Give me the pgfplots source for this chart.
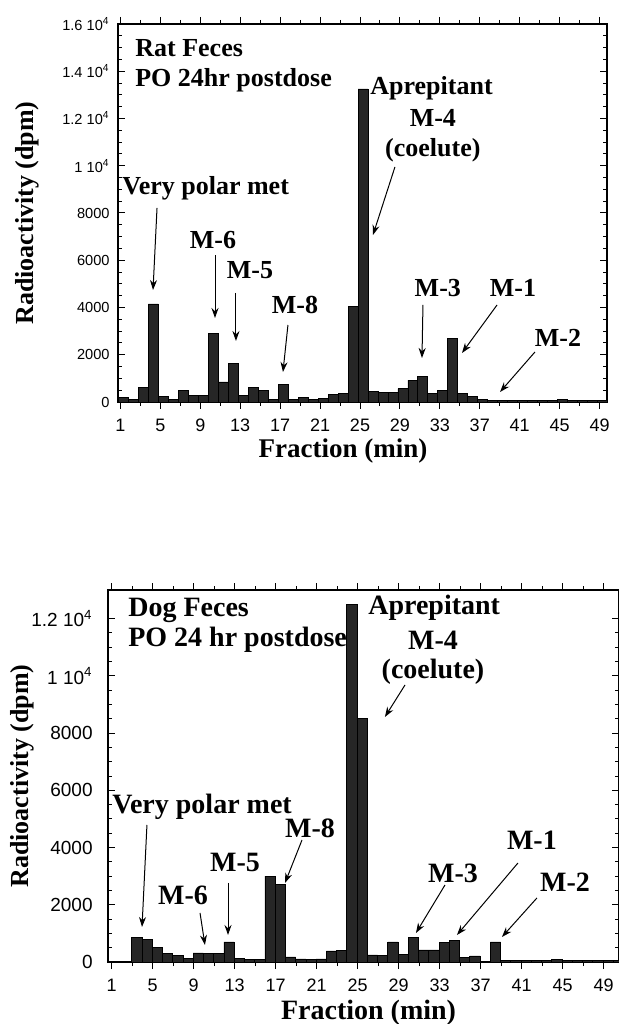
\documentclass[border=0pt]{standalone}
\usepackage{fontspec}
\setmainfont{Liberation Serif}
\setsansfont{Liberation Sans}
\usepackage{pgfplots}
\usepackage{pgfplotstable}
\pgfplotsset{compat=1.18}
\usetikzlibrary{arrows.meta}

\pgfplotstableread{
f v
1 180
2 120
3 600
4 4150
5 250
6 100
7 470
8 285
9 285
10 2900
11 850
12 1650
13 285
14 610
15 470
16 115
17 750
18 115
19 185
20 115
21 140
22 330
23 360
24 4050
25 13250
26 430
27 400
28 400
29 570
30 930
31 1100
32 357
33 500
34 2700
35 357
36 220
37 100
38 60
39 60
40 50
41 50
42 50
43 50
44 80
45 110
46 60
47 50
48 60
49 70
}\ratdata

\pgfplotstableread{
f v
3 850
4 800
5 500
6 290
7 220
8 115
9 315
10 290
11 290
12 700
13 115
14 80
15 80
16 3000
17 2700
18 175
19 105
20 80
21 105
22 385
23 410
24 12500
25 8500
26 245
27 220
28 700
29 270
30 850
31 420
32 420
33 680
34 740
35 150
36 210
37 30
38 700
39 60
40 60
41 50
42 50
43 50
44 80
45 50
46 50
47 40
48 60
49 50
50 40
}\dogdata

\newcommand{\annA}{\fontsize{13}{14}\selectfont\bfseries}
\newcommand{\annB}{\fontsize{14}{15}\selectfont\bfseries}

\pgfplotsset{
  common/.style={
    scale only axis,
    clip=false,
    scaled y ticks=false,
    scaled x ticks=false,
    axis line style={line width=0.6pt},
    tick style={line width=0.5pt, black},
    major tick length=3.5pt,
    minor tick length=2pt,
    tick pos=both,
    tick align=inside,
    xtick={1,5,...,49},
    xticklabels={1,5,9,13,17,21,25,29,33,37,41,45,49},
    minor xtick={3,7,...,47},
    minor y tick num=3,
    xticklabel style={font=\sffamily\fontsize{9}{10}\selectfont, anchor=center, yshift=-8pt},
    ylabel={Radioactivity (dpm)},
    xlabel={Fraction (min)},
    ybar,
    bar width=1,
  },
  mybar/.style={fill=black!85, draw=black, line width=0.4pt},
}

\begin{document}
\begin{tikzpicture}
\useasboundingbox (0pt,0pt) rectangle (309.5pt,512pt);

% ---------- Rat ----------
\begin{axis}[common,
  at={(59pt,311pt)}, anchor=south west,
  width=244.5pt, height=189pt,
  xmin=0.75, xmax=49.75, ymin=0, ymax=16000,
  ytick={0,2000,...,16000},
  yticklabels={0,2000,4000,6000,8000,{1 10\textsuperscript{4}},{1.2 10\textsuperscript{4}},{1.4 10\textsuperscript{4}},{1.6 10\textsuperscript{4}}},
  yticklabel style={font=\sffamily\fontsize{7.3}{8}\selectfont, anchor=east, inner sep=0pt, xshift=-4pt},
  ylabel style={font=\fontsize{13}{14}\selectfont\bfseries, at={(axis description cs:-0.186,0.5)}, anchor=center},
  xlabel style={font=\fontsize{13.5}{14}\selectfont\bfseries, at={(axis description cs:0.46,-0.13)}, anchor=center},
]
\addplot[mybar] table[x expr=\thisrow{f}+0.3, y=v] {\ratdata};

\node[font=\annA, anchor=west, inner sep=0pt] at (axis cs:2.45,14985) {Rat Feces};
\node[font=\annA, anchor=west, inner sep=0pt] at (axis cs:2.45,13630) {PO 24hr postdose};
\node[font=\annA, anchor=west, inner sep=0pt] at (axis cs:26.0,13290) {Aprepitant};
\node[font=\annA, anchor=center, inner sep=0pt] at (axis cs:32.3,12020) {M-4};
\node[font=\annA, anchor=center, inner sep=0pt] at (axis cs:32.3,10667) {(coelute)};
\node[font=\annA, anchor=west, inner sep=0pt] at (axis cs:1.15,9059) {Very polar met};
\node[font=\annA, anchor=center, inner sep=0pt] at (axis cs:10.27,6857) {M-6};
\node[font=\annA, anchor=center, inner sep=0pt] at (axis cs:13.98,5588) {M-5};
\node[font=\annA, anchor=center, inner sep=0pt] at (axis cs:18.48,4106) {M-8};
\node[font=\annA, anchor=center, inner sep=0pt] at (axis cs:32.8,4826) {M-3};
\node[font=\annA, anchor=center, inner sep=0pt] at (axis cs:40.33,4826) {M-1};
\node[font=\annA, anchor=center, inner sep=0pt] at (axis cs:44.84,2709) {M-2};

\begin{scope}[line width=0.5pt, -{Stealth[length=5pt,width=3.5pt]}]
\draw (axis cs:28.5,9948) -- (axis cs:26.3,7069);
\draw (axis cs:4.66,8212) -- (axis cs:4.26,4741);
\draw (axis cs:10.47,6222) -- (axis cs:10.47,3556);
\draw (axis cs:12.57,4614) -- (axis cs:12.57,2582);
\draw (axis cs:17.78,3259) -- (axis cs:17.28,1270);
\draw (axis cs:31.31,4106) -- (axis cs:31.21,1862);
\draw (axis cs:38.73,4106) -- (axis cs:35.22,2074);
\draw (axis cs:42.53,2117) -- (axis cs:39.03,423);
\end{scope}
\end{axis}

% ---------- Dog ----------
\begin{axis}[common,
  at={(54pt,31pt)}, anchor=south west,
  width=255.5pt, height=186pt,
  xmin=0.64, xmax=50.5, ymin=0, ymax=13000,
  ytick={0,2000,...,12000},
  yticklabels={0,2000,4000,6000,8000,{1 10\textsuperscript{4}},{1.2 10\textsuperscript{4}}},
  yticklabel style={font=\sffamily\fontsize{9.5}{10}\selectfont, anchor=east, inner sep=0pt, xshift=-7.5pt},
  ylabel style={font=\fontsize{13}{14}\selectfont\bfseries, at={(axis description cs:-0.168,0.5)}, anchor=center},
  xlabel style={font=\fontsize{14}{15}\selectfont\bfseries, at={(axis description cs:0.51,-0.137)}, anchor=center},
]
\addplot[mybar] table[x expr=\thisrow{f}+0.45, y=v] {\dogdata};

\node[font=\annB, anchor=west, inner sep=0pt] at (axis cs:2.59,12302) {Dog Feces};
\node[font=\annB, anchor=west, inner sep=0pt] at (axis cs:2.59,11254) {PO 24 hr postdose};
\node[font=\annB, anchor=west, inner sep=0pt] at (axis cs:26.0,12372) {Aprepitant};
\node[font=\annB, anchor=center, inner sep=0pt] at (axis cs:32.35,11254) {M-4};
\node[font=\annB, anchor=center, inner sep=0pt] at (axis cs:32.35,10136) {(coelute)};
\node[font=\annB, anchor=west, inner sep=0pt] at (axis cs:1.03,5417) {Very polar met};
\node[font=\annB, anchor=center, inner sep=0pt] at (axis cs:7.96,2342) {M-6};
\node[font=\annB, anchor=center, inner sep=0pt] at (axis cs:13.03,3495) {M-5};
\node[font=\annB, anchor=center, inner sep=0pt] at (axis cs:20.35,4683) {M-8};
\node[font=\annB, anchor=center, inner sep=0pt] at (axis cs:34.3,3111) {M-3};
\node[font=\annB, anchor=center, inner sep=0pt] at (axis cs:42.0,4264) {M-1};
\node[font=\annB, anchor=center, inner sep=0pt] at (axis cs:45.23,2796) {M-2};

\begin{scope}[line width=0.5pt, -{Stealth[length=5pt,width=3.5pt]}]
\draw (axis cs:29.62,9681) -- (axis cs:27.66,8563);
\draw (axis cs:4.44,4788) -- (axis cs:3.96,1223);
\draw (axis cs:9.62,1713) -- (axis cs:10.1,594);
\draw (axis cs:12.35,2761) -- (axis cs:12.35,944);
\draw (axis cs:19.57,4264) -- (axis cs:17.91,2761);
\draw (axis cs:33.52,2691) -- (axis cs:30.69,1014);
\draw (axis cs:40.64,3460) -- (axis cs:34.69,944);
\draw (axis cs:42.49,2237) -- (axis cs:39.08,874);
\end{scope}
\end{axis}
\end{tikzpicture}
\end{document}
